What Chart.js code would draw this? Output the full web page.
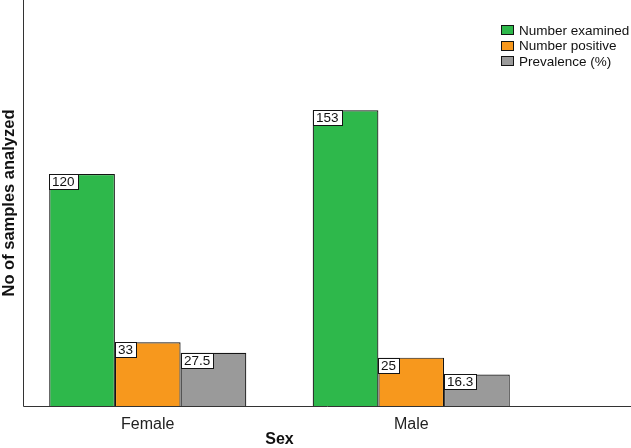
<!DOCTYPE html>
<html>
<head>
<meta charset="utf-8">
<script src="https://cdn.jsdelivr.net/npm/chart.js@4.4.0/dist/chart.umd.min.js"></script>
<style>
  body { margin: 0; background: #fff; }
  #wrap { width: 631px; height: 448px; }
</style>
</head>
<body>
<div id="wrap"><canvas id="chart"></canvas></div>
<script>
// data
const categories = ['Female', 'Male'];
const numberExamined = [120, 153];
const numberPositive = [33, 25];
const prevalence = [27.5, 16.3];
const seriesLabels = ['Number examined', 'Number positive', 'Prevalence (%)'];
const seriesColors = ['#2eb84b', '#f7981d', '#9a9a9a'];

const FONT = "'Liberation Sans', Arial, sans-serif";
const EDGE = '#141414';

// white value boxes at the top-left corner of each bar
const valueBoxes = {
    id: 'valueBoxes',
    afterDatasetsDraw(chart) {
        const ctx = chart.ctx;
        ctx.save();
        ctx.font = '13.5px ' + FONT;
        chart.data.datasets.forEach((ds, i) => {
            chart.getDatasetMeta(i).data.forEach((bar, j) => {
                const text = String(ds.data[j]);
                const w = Math.round(ctx.measureText(text).width) + 6;
                const h = 15;
                const x = Math.round(bar.x - bar.width / 2);
                const y = Math.round(bar.y);
                ctx.fillStyle = '#fff';
                ctx.fillRect(x, y, w, h);
                ctx.strokeStyle = EDGE;
                ctx.lineWidth = 1;
                ctx.strokeRect(x + 0.5, y + 0.5, w, h);
                ctx.fillStyle = '#111';
                ctx.textBaseline = 'middle';
                ctx.fillText(text, x + 3, y + h / 2 + 1);
            });
        });
        ctx.restore();
    }
};

// axis lines and the stacked legend in the top right
const frame = {
    id: 'frame',
    afterDraw(chart) {
        const ctx = chart.ctx;
        const area = chart.chartArea;
        const axisX = Math.round(area.left + 7) + 0.5;
        const axisY = Math.round(area.bottom) + 0.5;
        ctx.save();
        ctx.strokeStyle = '#333';
        ctx.lineWidth = 1;
        ctx.beginPath();
        ctx.moveTo(axisX, area.top);
        ctx.lineTo(axisX, axisY);
        ctx.lineTo(chart.width, axisY);
        ctx.stroke();

        const lx = chart.width - 130;
        ctx.font = '13.5px ' + FONT;
        ctx.textBaseline = 'middle';
        chart.data.datasets.forEach((ds, i) => {
            const cy = 30 + i * 15.5;
            ctx.fillStyle = ds.backgroundColor;
            ctx.fillRect(lx, Math.round(cy - 5), 13, 10);
            ctx.strokeStyle = EDGE;
            ctx.strokeRect(lx + 0.5, Math.round(cy - 5) + 0.5, 12, 9);
            ctx.fillStyle = '#111';
            ctx.fillText(ds.label, lx + 18, cy + 1);
        });
        ctx.restore();
    }
};

const seriesValues = [numberExamined, numberPositive, prevalence];

new Chart(document.getElementById('chart'), {
    type: 'bar',
    data: {
        labels: categories,
        datasets: seriesValues.map((values, i) => ({
            label: seriesLabels[i],
            data: values,
            backgroundColor: seriesColors[i],
            borderColor: EDGE,
            borderWidth: 1.2,
            categoryPercentage: 0.748,
            barPercentage: 1
        }))
    },
    options: {
        responsive: true,
        maintainAspectRatio: false,
        animation: false,
        layout: { padding: { left: 0, right: 88, top: 0, bottom: 0 } },
        plugins: {
            legend: { display: false },
            tooltip: { enabled: false }
        },
        scales: {
            x: {
                grid: { display: false, drawTicks: false },
                border: { display: false },
                ticks: { color: '#222', font: { family: FONT, size: 16 }, padding: 9 },
                title: {
                    display: true,
                    text: 'Sex',
                    color: '#111',
                    font: { family: FONT, size: 16, weight: 'bold', lineHeight: 1 },
                    padding: { top: 0, bottom: 0 }
                },
                afterFit(scale) { scale.height = 42; }
            },
            y: {
                min: 0,
                max: 210,
                grid: { display: false, drawTicks: false },
                border: { display: false },
                ticks: { display: false },
                title: {
                    display: true,
                    text: 'No of samples analyzed',
                    color: '#111',
                    font: { family: FONT, size: 16.5, weight: 'bold', lineHeight: 1 },
                    padding: { top: 1, bottom: 0 }
                },
                afterFit(scale) { scale.width = 16; }
            }
        }
    },
    plugins: [valueBoxes, frame]
});
</script>
</body>
</html>
